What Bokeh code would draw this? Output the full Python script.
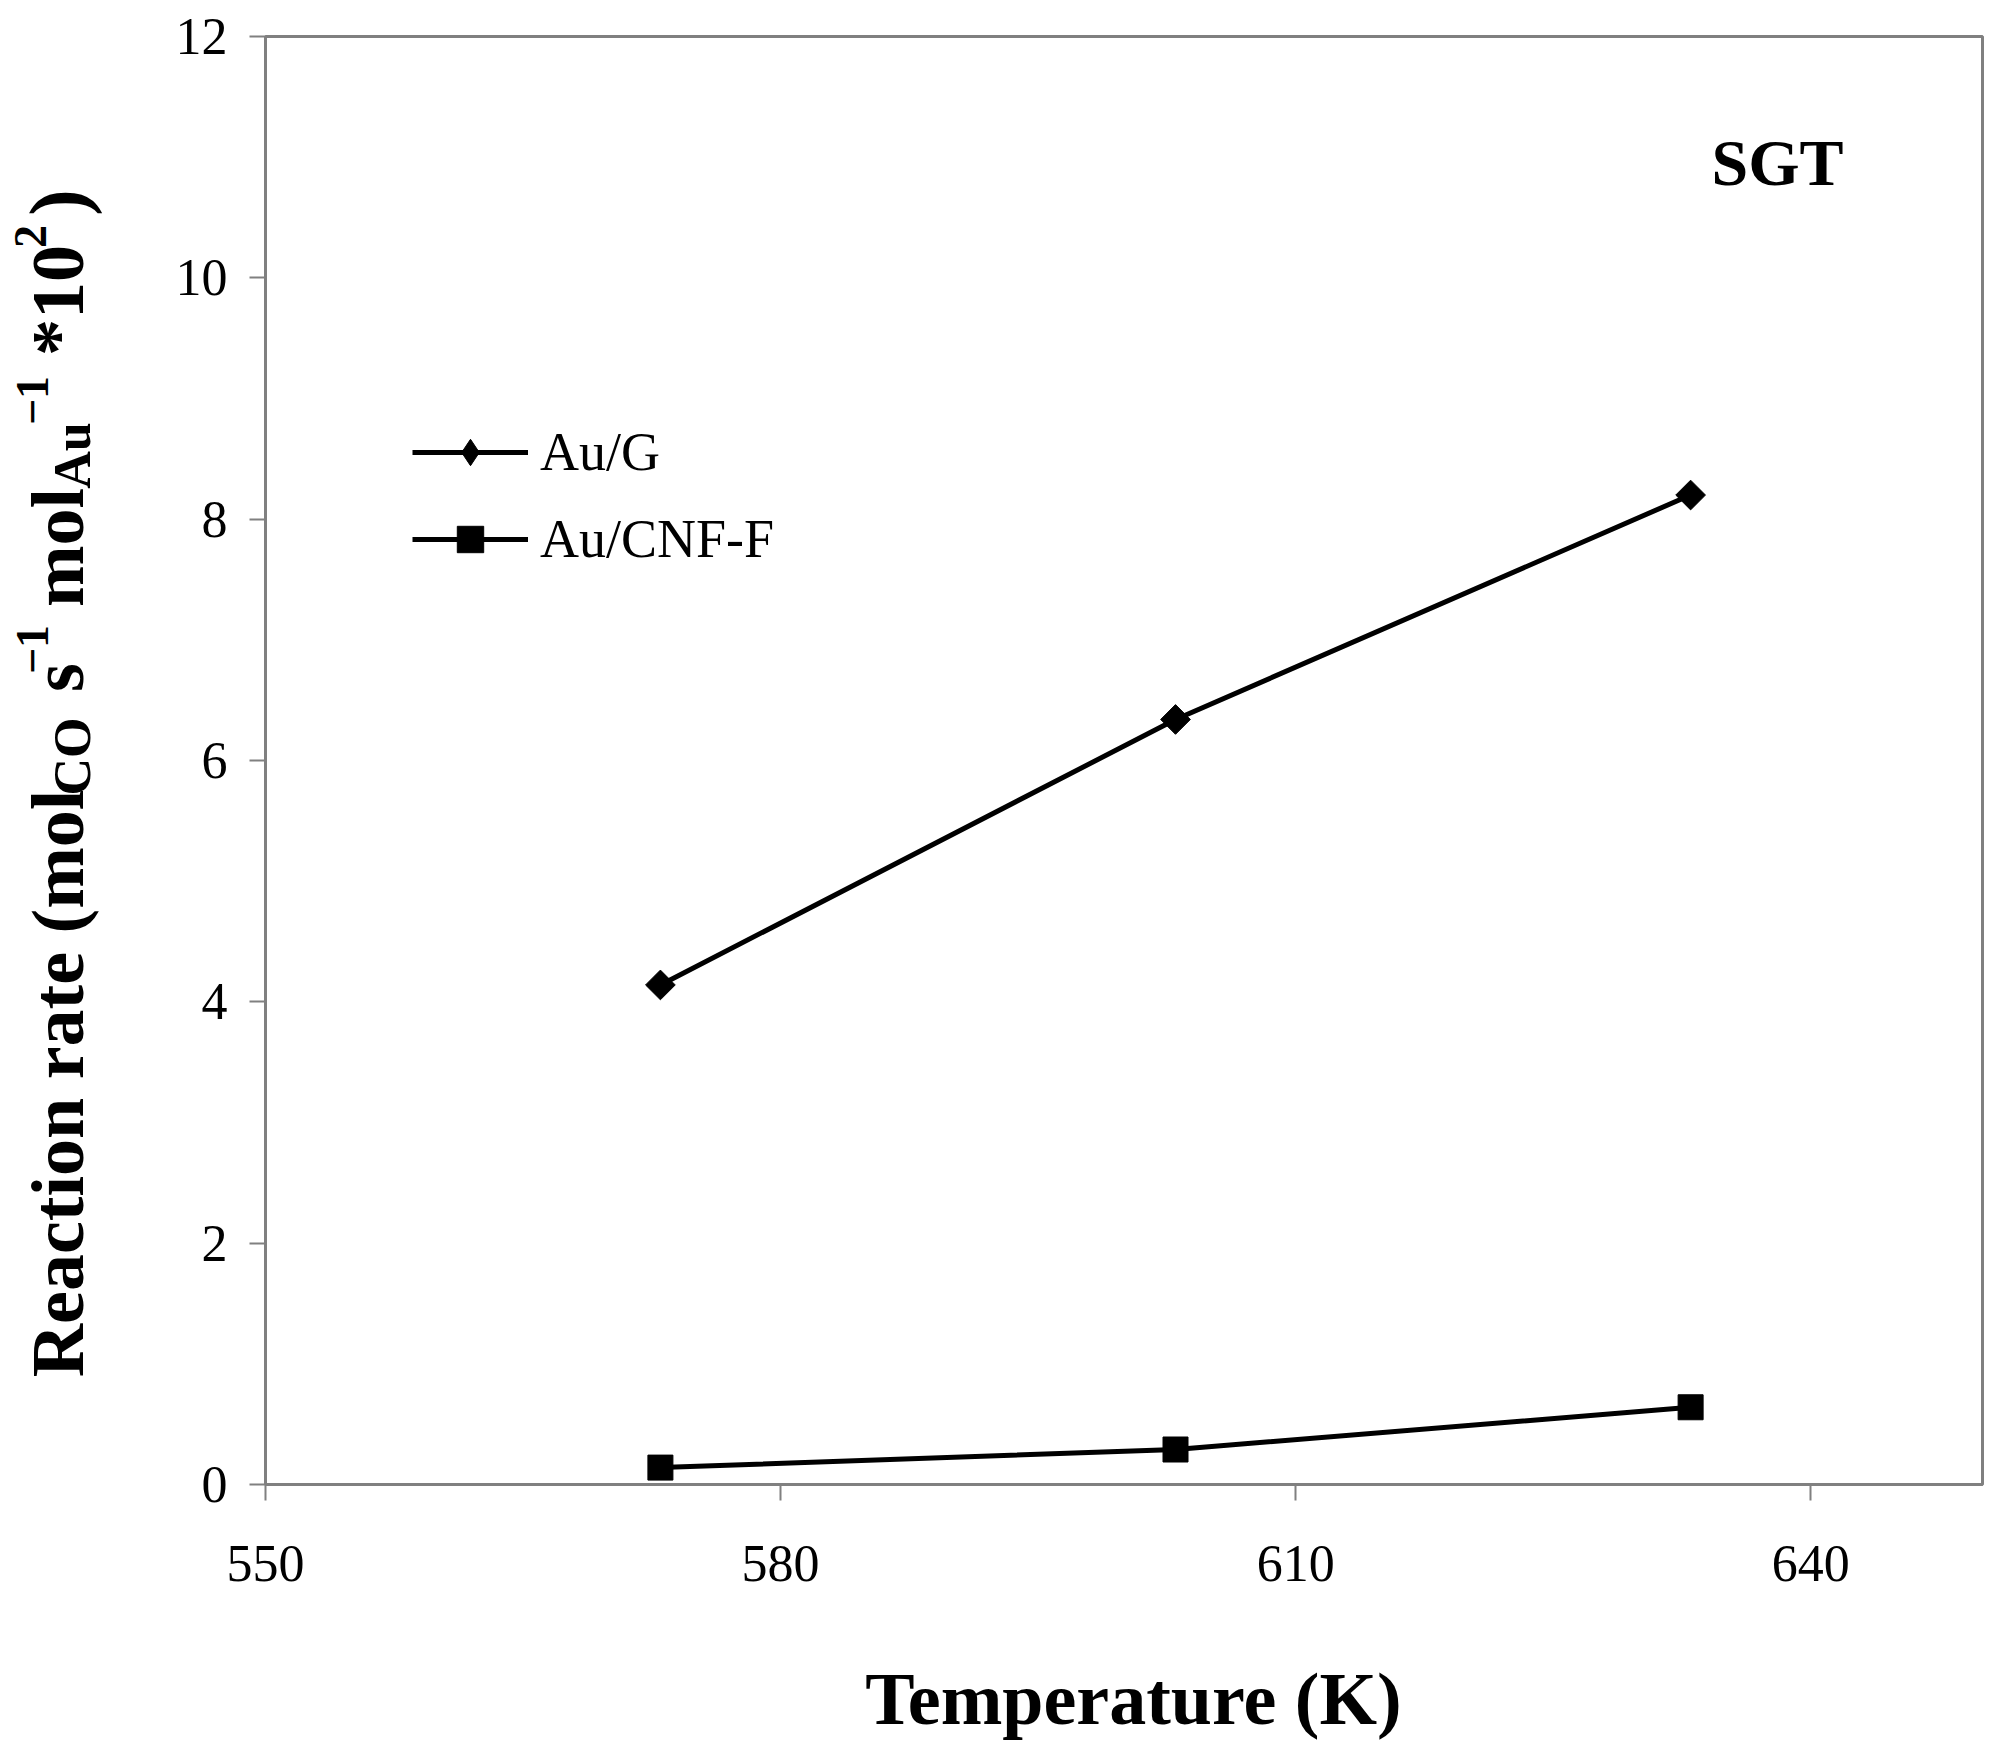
import math
from bokeh.plotting import figure
from bokeh.layouts import row, column
from bokeh.models import (Range1d, FixedTicker, Label, Legend, LegendItem,
                          ColumnDataSource)
from bokeh.embed import file_html
from bokeh.resources import INLINE

# ---------------- data ----------------
temperature_K = [573, 603, 633]
rate_au_g = [4.14, 6.34, 8.20]
rate_au_cnf_f = [0.14, 0.29, 0.64]
series_names = ["Au/G", "Au/CNF-F"]
x_ticks = [550, 580, 610, 640]
y_ticks = [0, 2, 4, 6, 8, 10, 12]
x_title = "Temperature (K)"
panel_label = "SGT"
# y title pieces and their role (main text, subscript, superscript)
y_title_text = ["Reaction rate (mol", "CO", "s", "\u22121", "mol", "Au",
                "\u22121", "*10", "2", ")"]
y_title_role = ["main", "sub", "main", "sup", "main", "sub", "sup", "main",
                "sup", "close"]

# ---------------- layout (image pixel coordinates) ----------------
FONT = "Liberation Serif"
W, H = 1984, 1740
TOP_H = 1620                      # height of the row with the plot
LEFT_W = 130                      # width of the y-title strip
FL, FT, FR, FB = 265, 36, 1982, 1484   # plot frame edges
X0, X1, Y0, Y1 = 550, 650, 0, 12


def to_data(ix, iy):
    """image pixel -> data coordinates of the main plot"""
    return (X0 + (ix - FL) * (X1 - X0) / (FR - FL),
            Y0 + (FB - iy) * (Y1 - Y0) / (FB - FT))


def bare(width, height, y0, y1):
    f = figure(width=width, height=height, output_backend="svg",
               toolbar_location=None, x_range=Range1d(0, width),
               y_range=Range1d(y0, y1), x_axis_type=None,
               y_axis_type=None, min_border=0)
    f.outline_line_color = None
    f.xgrid.visible = False
    f.ygrid.visible = False
    f.background_fill_color = "white"
    f.border_fill_color = "white"
    return f


# ---------------- main plot ----------------
p = figure(width=W - LEFT_W, height=TOP_H, output_backend="svg",
           toolbar_location=None,
           x_range=Range1d(X0, X1), y_range=Range1d(Y0, Y1),
           min_border_left=FL - LEFT_W, min_border_top=FT,
           min_border_right=W - FR, min_border_bottom=TOP_H - FB)
p.background_fill_color = "white"
p.border_fill_color = "white"
p.outline_line_color = "#808080"
p.outline_line_width = 3
p.xgrid.visible = False
p.ygrid.visible = False

for ax in (p.xaxis[0], p.yaxis[0]):
    ax.axis_line_color = "#808080"
    ax.axis_line_width = 3
    ax.major_tick_line_color = "#808080"
    ax.major_tick_line_width = 2
    ax.major_tick_out = 16
    ax.major_tick_in = 0
    ax.minor_tick_out = 0
    ax.minor_tick_in = 0
    ax.major_label_text_font = FONT
    ax.major_label_text_font_size = "52px"
    ax.major_label_text_color = "black"

p.xaxis.ticker = FixedTicker(ticks=x_ticks)
p.yaxis.ticker = FixedTicker(ticks=y_ticks)
p.xaxis.major_label_standoff = 45
p.yaxis.major_label_standoff = 22

src_g = ColumnDataSource(dict(x=temperature_K, y=rate_au_g))
src_c = ColumnDataSource(dict(x=temperature_K, y=rate_au_cnf_f))

lg = p.line("x", "y", source=src_g, line_color="black", line_width=5)
# diamond key (sits fully underneath the rotated squares; used for the legend)
sg_key = p.scatter("x", "y", source=src_g, marker="diamond", size=26,
                   fill_color="black", line_color="black")
sg = p.scatter("x", "y", source=src_g, marker="square", angle=math.pi / 4,
               size=21, fill_color="black", line_color="black")
lc = p.line("x", "y", source=src_c, line_color="black", line_width=5)
sc = p.scatter("x", "y", source=src_c, marker="square", size=25,
               fill_color="black", line_color="black")

legend = Legend(items=[LegendItem(label=series_names[0], renderers=[lg, sg_key]),
                       LegendItem(label=series_names[1], renderers=[lc, sc])],
                location=(147, 912), orientation="vertical",
                glyph_width=116, glyph_height=66, label_height=66,
                label_standoff=12, spacing=21, padding=0, margin=0,
                border_line_alpha=0, background_fill_alpha=0,
                label_text_font=FONT, label_text_font_size="54px",
                label_text_color="black")
p.add_layout(legend)

sx, sy = to_data(1777, 162)
p.add_layout(Label(x=sx, y=sy, text=panel_label, text_font=FONT,
                   text_font_size="66px", text_font_style="bold",
                   text_align="center", text_baseline="middle",
                   text_color="black"))

# ---------------- y title strip ----------------
# its frame is aligned with the main plot's frame (image y FT..FB),
# so the range is chosen to keep data y == TOP_H - image y
fl = bare(LEFT_W, TOP_H, TOP_H - FB, TOP_H - FT)
role_size = {"main": "74px", "sub": "52px", "sup": "46px", "close": "80px"}
# centre of each piece in image px (x across, y along the text)
piece_cx = [57, 72, 57, 32, 57, 72, 32, 57, 30, 57]
piece_cy = [1083, 756, 677, 649, 547, 455, 400, 300, 236, 202]
ysrc = ColumnDataSource(dict(
    x=piece_cx,
    y=[TOP_H - v for v in piece_cy],
    text=y_title_text,
    size=[role_size[r] for r in y_title_role],
))
fl.text("x", "y", text="text", source=ysrc, angle=math.pi / 2,
        text_font_size="size", text_font={"value": FONT},
        text_font_style="bold", text_align="center",
        text_baseline="middle", text_color="black")

# ---------------- x title strip ----------------
fb = bare(W, H - TOP_H, 0, H - TOP_H)
xsrc = ColumnDataSource(dict(x=[1133], y=[H - 1698], text=[x_title]))
fb.text("x", "y", text="text", source=xsrc, text_font={"value": FONT},
        text_font_size="74px", text_font_style="bold", text_align="center",
        text_baseline="middle", text_color="black")

layout = column(row(fl, p), fb)
open("out.html", "w").write(file_html(layout, INLINE))
